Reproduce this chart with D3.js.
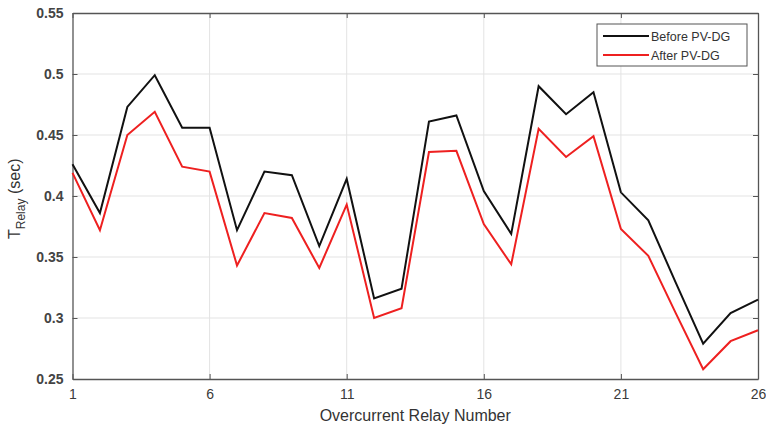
<!DOCTYPE html>
<head>
<meta charset="utf-8">
<script src="https://d3js.org/d3.v7.min.js"></script>
<style>
  body { margin: 0; background: #fff; font-family: "Liberation Sans", Arial, sans-serif; }
  .grid line { stroke: #e3e3e3; stroke-width: 1; }
  .tick text { fill: #3a3a3a; font-size: 14px; }
</style>
</head>
<body>
<div id="chart"></div>
<script>
// relay numbers and operating times (sec)
var relays = d3.range(1, 27);
var beforePV = [0.426, 0.386, 0.473, 0.499, 0.456, 0.456, 0.372, 0.420, 0.417, 0.359,
                0.414, 0.316, 0.324, 0.461, 0.466, 0.404, 0.369, 0.490, 0.467, 0.485,
                0.403, 0.380, 0.329, 0.279, 0.304, 0.315];
var afterPV  = [0.419, 0.372, 0.450, 0.469, 0.424, 0.420, 0.343, 0.386, 0.382, 0.341,
                0.393, 0.300, 0.308, 0.436, 0.437, 0.377, 0.344, 0.455, 0.432, 0.449,
                0.373, 0.351, 0.304, 0.258, 0.281, 0.290];
var xTicks = [1, 6, 11, 16, 21, 26];
var yTicks = [0.25, 0.3, 0.35, 0.4, 0.45, 0.5, 0.55];
var seriesNames = ["Before PV-DG", "After PV-DG"];
var seriesColors = ["#111111", "#ee2020"];

var W = 766, H = 430;
var margin = {top: 13, right: 8, bottom: 51, left: 72.5};
var width = W - margin.left - margin.right,
    height = H - margin.top - margin.bottom;

var svg = d3.select("#chart").append("svg")
    .attr("width", W).attr("height", H)
  .append("g")
    .attr("transform", "translate(" + margin.left + "," + margin.top + ")");

var x = d3.scaleLinear().domain([1, 26]).range([0, width]);
var y = d3.scaleLinear().domain([0.25, 0.55]).range([height, 0]);

// grid
svg.append("g").attr("class", "grid")
  .selectAll("line").data(xTicks.slice(1, -1)).enter().append("line")
    .attr("x1", function(d) { return x(d); }).attr("x2", function(d) { return x(d); })
    .attr("y1", 0).attr("y2", height);
svg.append("g").attr("class", "grid")
  .selectAll("line").data(yTicks.slice(1, -1)).enter().append("line")
    .attr("y1", function(d) { return y(d); }).attr("y2", function(d) { return y(d); })
    .attr("x1", 0).attr("x2", width);

// axes (box with inner ticks like matlab)
function styleAxis(g) {
  g.select(".domain").attr("stroke", "#555").attr("stroke-width", 1.3);
  g.selectAll(".tick line").attr("stroke", "#555");
}
svg.append("g")
    .attr("transform", "translate(0," + height + ")")
    .call(d3.axisBottom(x).tickValues(xTicks).tickFormat(d3.format("d")).tickSizeInner(-5).tickSizeOuter(0).tickPadding(10))
    .call(styleAxis)
    .selectAll("text").style("font-size", "14px");
svg.append("g")
    .call(d3.axisTop(x).tickValues(xTicks).tickFormat("").tickSizeInner(-5).tickSizeOuter(0))
    .call(styleAxis);
svg.append("g")
    .call(d3.axisLeft(y).tickValues(yTicks).tickFormat(function(d) { return d3.format("")(+d.toFixed(2)); }).tickSizeInner(-5).tickSizeOuter(0).tickPadding(9))
    .call(styleAxis)
    .selectAll("text").style("font-weight", "bold").style("fill", "#444");
svg.append("g")
    .attr("transform", "translate(" + width + ",0)")
    .call(d3.axisRight(y).tickValues(yTicks).tickFormat("").tickSizeInner(-5).tickSizeOuter(0))
    .call(styleAxis);

// lines
var line = d3.line()
    .x(function(d, i) { return x(relays[i]); })
    .y(function(d) { return y(d); });
[beforePV, afterPV].forEach(function(s, k) {
  svg.append("path")
    .datum(s)
    .attr("fill", "none")
    .attr("stroke", seriesColors[k])
    .attr("stroke-width", 2)
    .attr("stroke-linejoin", "miter")
    .attr("d", line);
});

// legend
var lg = svg.append("g").attr("transform", "translate(" + (597 - margin.left) + "," + (24 - margin.top) + ")");
lg.append("rect").attr("width", 150).attr("height", 42)
  .attr("fill", "#fff").attr("stroke", "#555").attr("stroke-width", 1);
seriesNames.forEach(function(n, i) {
  lg.append("line").attr("x1", 6).attr("x2", 52)
    .attr("y1", 12 + i * 19).attr("y2", 12 + i * 19)
    .attr("stroke", seriesColors[i]).attr("stroke-width", 2);
  lg.append("text").attr("x", 54).attr("y", 16.5 + i * 19)
    .style("font-size", "12.5px").style("fill", "#333").text(n);
});

// axis titles
svg.append("text")
    .attr("x", width / 2).attr("y", height + 42)
    .style("text-anchor", "middle").style("font-size", "16px").style("fill", "#333")
    .text("Overcurrent Relay Number");
var yl = svg.append("text")
    .attr("transform", "translate(" + (20 - margin.left) + "," + (239 - margin.top) + ") rotate(-90)")
    .style("fill", "#333").style("font-size", "16px");
yl.append("tspan").text("T");
yl.append("tspan").attr("dy", 5).style("font-size", "12px").text("Relay");
yl.append("tspan").attr("dy", -5).text(" (sec)");
</script>
</body>
